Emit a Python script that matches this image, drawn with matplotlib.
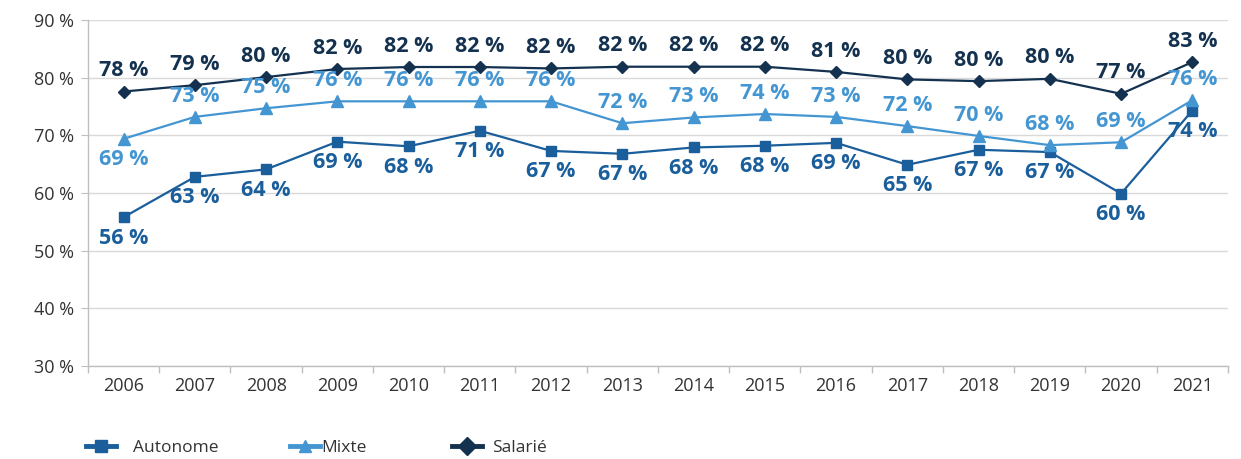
import matplotlib
matplotlib.use("Agg")
import matplotlib.pyplot as plt
from matplotlib.lines import Line2D

plt.rcParams['font.family'] = ['Open Sans', 'DejaVu Sans']

years = ["2006", "2007", "2008", "2009", "2010", "2011", "2012", "2013",
         "2014", "2015", "2016", "2017", "2018", "2019", "2020", "2021"]
autonome = [55.8, 62.8, 64.1, 68.9, 68.1, 70.8, 67.3, 66.8, 67.9, 68.2, 68.7, 64.9, 67.5, 67.1, 59.9, 74.3]
mixte = [69.4, 73.2, 74.7, 75.9, 75.9, 75.9, 75.9, 72.1, 73.1, 73.7, 73.2, 71.6, 69.9, 68.3, 68.8, 76.1]
salarie = [77.6, 78.7, 80.1, 81.5, 81.85, 81.85, 81.6, 81.9, 81.9, 81.9, 81.0, 79.7, 79.4, 79.8, 77.2, 82.7]
autonome_lbl = [56, 63, 64, 69, 68, 71, 67, 67, 68, 68, 69, 65, 67, 67, 60, 74]
mixte_lbl = [69, 73, 75, 76, 76, 76, 76, 72, 73, 74, 73, 72, 70, 68, 69, 76]
salarie_lbl = [78, 79, 80, 82, 82, 82, 82, 82, 82, 82, 81, 80, 80, 80, 77, 83]
yticks = [30, 40, 50, 60, 70, 80, 90]

c_aut = '#1a5e9c'
c_mix = '#4496d3'
c_sal = '#14324f'

fig = plt.figure(figsize=(12.41, 4.59), dpi=100)
ax = fig.add_axes([0.0709, 0.2026, 0.9186, 0.7538])
x = list(range(len(years)))

l_aut, = ax.plot(x, autonome, color=c_aut, lw=1.6, marker='s', ms=6.5, label='Autonome', zorder=3)
l_mix, = ax.plot(x, mixte, color=c_mix, lw=1.6, marker='^', ms=8, label='Mixte', zorder=3)
l_sal, = ax.plot(x, salarie, color=c_sal, lw=1.6, marker='D', ms=6, label='Salarié', zorder=3)

def lab(vals, lbls, color, below_set, off=15):
    for i, (v, t) in enumerate(zip(vals, lbls)):
        dy = -off if i in below_set else off
        ax.annotate(f"{t} %", (i, v), xytext=(0, dy), textcoords='offset points',
                    ha='center', va='center', fontsize=15.5, fontweight='bold',
                    color=color, annotation_clip=False, zorder=4)

lab(salarie, salarie_lbl, c_sal, set())
lab(mixte, mixte_lbl, c_mix, {0})
lab(autonome, autonome_lbl, c_aut, set(range(16)))

ax.set_xlim(-0.5, 15.5)
ax.set_ylim(30, 90)
ax.set_yticks(yticks)
ax.set_yticklabels([f"{v} %" for v in yticks])
ax.set_xticks(x)
ax.set_xticklabels(years)
ax.set_xticks([i - 0.5 for i in range(17)], minor=True)
ax.tick_params(axis='x', which='major', length=0, pad=8, labelsize=13, labelcolor='#333333')
ax.tick_params(axis='x', which='minor', length=5, color='#bfbfbf', width=1)
ax.tick_params(axis='y', length=5, color='#bfbfbf', labelsize=13, labelcolor='#333333', pad=5)
ax.grid(axis='y', color='#d9d9d9', lw=1)
ax.set_axisbelow(True)
for s in ['top', 'right']:
    ax.spines[s].set_visible(False)
ax.spines['left'].set_color('#bfbfbf')
ax.spines['bottom'].set_color('#bfbfbf')
ax.spines['left'].set_linewidth(1)
ax.spines['bottom'].set_linewidth(1)

# legends placed individually
def leg(line, xpos, hl, pad):
    h = Line2D([], [], color=line.get_color(), lw=3.5, marker=line.get_marker(), ms=9)
    lg = fig.legend([h], [line.get_label()], loc='center left',
                    bbox_to_anchor=(xpos, 0.024), frameon=False, fontsize=12.5,
                    handlelength=hl, handletextpad=pad, borderpad=0, borderaxespad=0)
    for t in lg.get_texts():
        t.set_color('#333333')

leg(l_aut, 86 / 1241, 1.7, 1.0)
leg(l_mix, 290 / 1241, 1.7, 0.1)
leg(l_sal, 452 / 1241, 1.7, 0.6)

fig.savefig('out.png', dpi=100)
